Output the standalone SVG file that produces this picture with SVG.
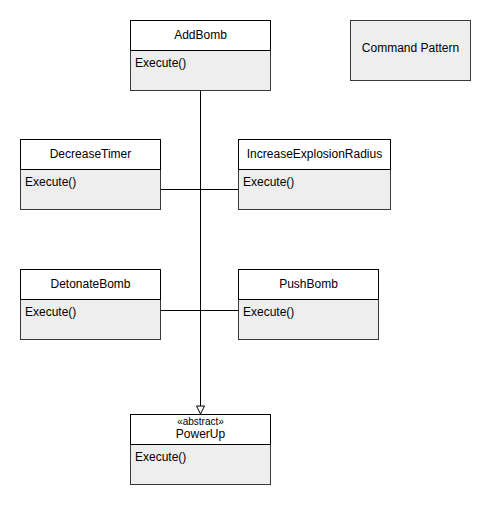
<svg xmlns="http://www.w3.org/2000/svg" width="491" height="505" viewBox="0 0 491 505">
<style>
.hd{fill:#ffffff;stroke:#000000;stroke-width:1}
.bd{fill:#eeeeee;stroke:#36393d;stroke-width:1}
text{font-family:"Liberation Sans",Arial,sans-serif;font-size:12px;fill:#000000}
.c{text-anchor:middle}
.st{font-size:10px}
.ln{fill:none;stroke:#000000;stroke-width:1}
</style>
<defs>
<marker id="tri" markerWidth="10" markerHeight="12" refX="9" refY="5" orient="auto" markerUnits="userSpaceOnUse">
<path d="M1,1 L9,5 L1,9 Z" fill="#ffffff" stroke="#000000" stroke-width="1"/>
</marker>
</defs>
<rect x="0" y="0" width="491" height="505" fill="#ffffff"/>
<g id="connectors">
<line class="ln" x1="200.5" y1="90" x2="200.5" y2="414" marker-end="url(#tri)"/>
<line class="ln" x1="160.5" y1="189.5" x2="238.5" y2="189.5"/>
<line class="ln" x1="160.5" y1="310.5" x2="238.5" y2="310.5"/>
</g>
<g id="AddBomb">
<rect class="bd" x="130.5" y="50.5" width="140" height="40"/>
<rect class="hd" x="130.5" y="20.5" width="140" height="30"/>
<text class="c" x="200.5" y="38.5">AddBomb</text>
<text x="135" y="66.5">Execute()</text>
</g>
<g id="DecreaseTimer">
<rect class="bd" x="20.5" y="169.5" width="140" height="40"/>
<rect class="hd" x="20.5" y="139.5" width="140" height="30"/>
<text class="c" x="90.5" y="157.5">DecreaseTimer</text>
<text x="25" y="185.5">Execute()</text>
</g>
<g id="IncreaseExplosionRadius">
<rect class="bd" x="238.5" y="169.5" width="152" height="40"/>
<rect class="hd" x="238.5" y="139.5" width="152" height="30"/>
<text class="c" x="314.5" y="157.5">IncreaseExplosionRadius</text>
<text x="243" y="185.5">Execute()</text>
</g>
<g id="DetonateBomb">
<rect class="bd" x="20.5" y="299.5" width="140" height="40"/>
<rect class="hd" x="20.5" y="269.5" width="140" height="30"/>
<text class="c" x="90.5" y="287.5">DetonateBomb</text>
<text x="25" y="315.5">Execute()</text>
</g>
<g id="PushBomb">
<rect class="bd" x="238.5" y="299.5" width="140" height="40"/>
<rect class="hd" x="238.5" y="269.5" width="140" height="30"/>
<text class="c" x="308.5" y="287.5">PushBomb</text>
<text x="243" y="315.5">Execute()</text>
</g>
<g id="PowerUp">
<rect class="bd" x="130.5" y="444.5" width="140" height="40"/>
<rect class="hd" x="130.5" y="414.5" width="140" height="30"/>
<text class="c st" x="200.5" y="425">«abstract»</text>
<text class="c" x="200.5" y="438">PowerUp</text>
<text x="135" y="460.5">Execute()</text>
</g>
<g id="CommandPattern">
<rect class="bd" x="350.5" y="20.5" width="120" height="60"/>
<text class="c" x="410.5" y="52">Command Pattern</text>
</g>
</svg>
